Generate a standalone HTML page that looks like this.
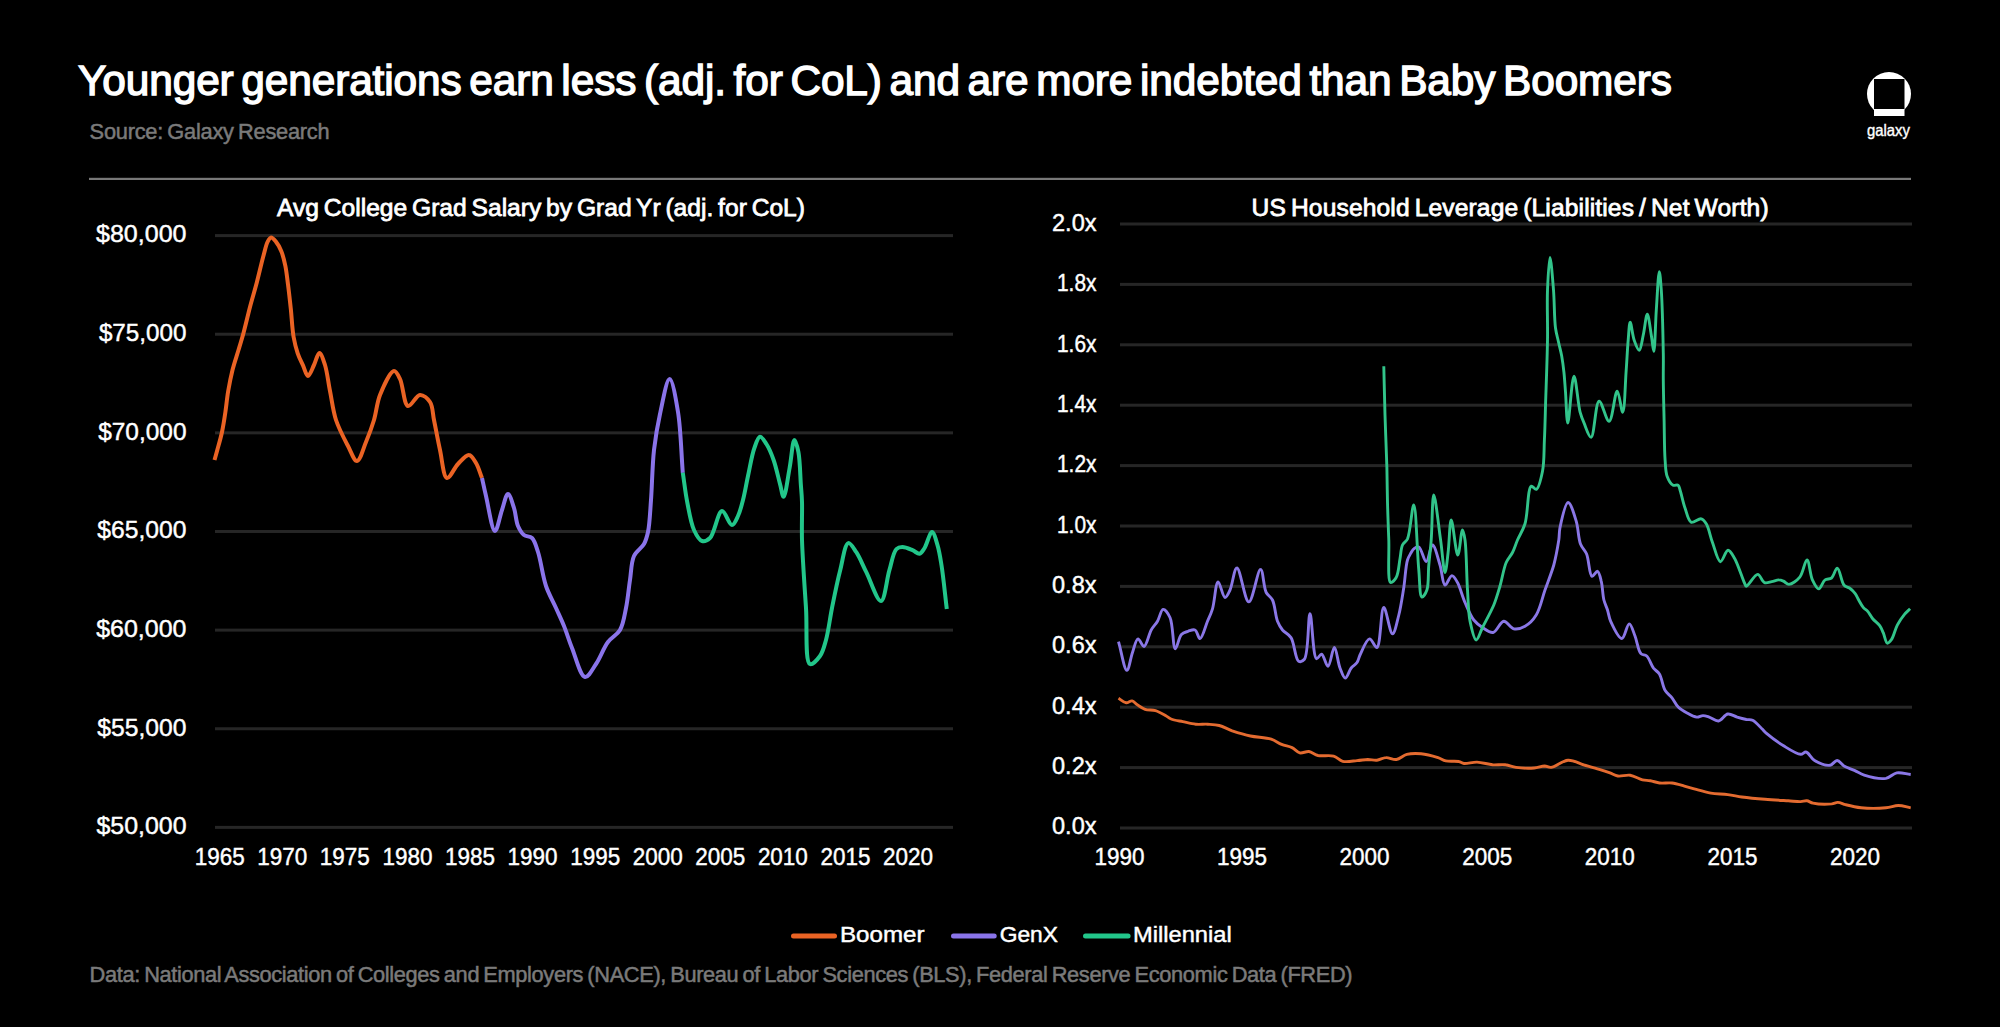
<!DOCTYPE html>
<html><head><meta charset="utf-8"><style>
html,body{margin:0;padding:0;background:#000;width:2000px;height:1027px;overflow:hidden}
svg{display:block}
text{font-family:"Liberation Sans", sans-serif}
</style></head><body>
<svg width="2000" height="1027" viewBox="0 0 2000 1027">
<rect width="2000" height="1027" fill="#000"/>
<text x="78" y="94.5" font-size="42.4" fill="#fff" font-weight="normal" text-anchor="start" textLength="1594" lengthAdjust="spacing" stroke="#fff" stroke-width="1.4" style="word-spacing:-4px">Younger generations earn less (adj. for CoL) and are more indebted than Baby Boomers</text>
<text x="89.6" y="139.4" font-size="21.8" fill="#7a7a7a" font-weight="normal" text-anchor="start" textLength="240" lengthAdjust="spacing" stroke="#7a7a7a" stroke-width="0.5" style="word-spacing:-1.5px">Source: Galaxy Research</text>
<rect x="89" y="177.8" width="1822" height="2.2" fill="#787878"/>
<text x="277" y="216.4" font-size="24.6" fill="#fff" font-weight="normal" text-anchor="start" textLength="528" lengthAdjust="spacing" stroke="#fff" stroke-width="0.8" style="word-spacing:-2px">Avg College Grad Salary by Grad Yr (adj. for CoL)</text>
<text x="1251.6" y="216.4" font-size="24.6" fill="#fff" font-weight="normal" text-anchor="start" textLength="517" lengthAdjust="spacing" stroke="#fff" stroke-width="0.8" style="word-spacing:-2px">US Household Leverage (Liabilities / Net Worth)</text>
<rect x="215" y="234.10" width="738" height="3" fill="#262626"/>
<text x="186.5" y="242.4" font-size="24.7" fill="#fff" font-weight="normal" text-anchor="end" textLength="90.5" lengthAdjust="spacingAndGlyphs" stroke="#fff" stroke-width="0.45">$80,000</text>
<rect x="215" y="332.73" width="738" height="3" fill="#262626"/>
<text x="186.5" y="341.07" font-size="24.7" fill="#fff" font-weight="normal" text-anchor="end" textLength="87.6" lengthAdjust="spacingAndGlyphs" stroke="#fff" stroke-width="0.45">$75,000</text>
<rect x="215" y="431.36" width="738" height="3" fill="#262626"/>
<text x="186.5" y="439.74" font-size="24.7" fill="#fff" font-weight="normal" text-anchor="end" textLength="88.3" lengthAdjust="spacingAndGlyphs" stroke="#fff" stroke-width="0.45">$70,000</text>
<rect x="215" y="529.99" width="738" height="3" fill="#262626"/>
<text x="186.5" y="538.41" font-size="24.7" fill="#fff" font-weight="normal" text-anchor="end" textLength="89.2" lengthAdjust="spacingAndGlyphs" stroke="#fff" stroke-width="0.45">$65,000</text>
<rect x="215" y="628.62" width="738" height="3" fill="#262626"/>
<text x="186.5" y="637.08" font-size="24.7" fill="#fff" font-weight="normal" text-anchor="end" textLength="90.3" lengthAdjust="spacingAndGlyphs" stroke="#fff" stroke-width="0.45">$60,000</text>
<rect x="215" y="727.25" width="738" height="3" fill="#262626"/>
<text x="186.5" y="735.75" font-size="24.7" fill="#fff" font-weight="normal" text-anchor="end" textLength="89.2" lengthAdjust="spacingAndGlyphs" stroke="#fff" stroke-width="0.45">$55,000</text>
<rect x="215" y="825.88" width="738" height="3" fill="#262626"/>
<text x="186.5" y="834.42" font-size="24.7" fill="#fff" font-weight="normal" text-anchor="end" textLength="90" lengthAdjust="spacingAndGlyphs" stroke="#fff" stroke-width="0.45">$50,000</text>
<text x="219.7" y="865" font-size="24.7" fill="#fff" font-weight="normal" text-anchor="middle" textLength="50" lengthAdjust="spacingAndGlyphs" stroke="#fff" stroke-width="0.45">1965</text>
<text x="282.275" y="865" font-size="24.7" fill="#fff" font-weight="normal" text-anchor="middle" textLength="50" lengthAdjust="spacingAndGlyphs" stroke="#fff" stroke-width="0.45">1970</text>
<text x="344.85" y="865" font-size="24.7" fill="#fff" font-weight="normal" text-anchor="middle" textLength="50" lengthAdjust="spacingAndGlyphs" stroke="#fff" stroke-width="0.45">1975</text>
<text x="407.425" y="865" font-size="24.7" fill="#fff" font-weight="normal" text-anchor="middle" textLength="50" lengthAdjust="spacingAndGlyphs" stroke="#fff" stroke-width="0.45">1980</text>
<text x="470.0" y="865" font-size="24.7" fill="#fff" font-weight="normal" text-anchor="middle" textLength="50" lengthAdjust="spacingAndGlyphs" stroke="#fff" stroke-width="0.45">1985</text>
<text x="532.575" y="865" font-size="24.7" fill="#fff" font-weight="normal" text-anchor="middle" textLength="50" lengthAdjust="spacingAndGlyphs" stroke="#fff" stroke-width="0.45">1990</text>
<text x="595.1500000000001" y="865" font-size="24.7" fill="#fff" font-weight="normal" text-anchor="middle" textLength="50" lengthAdjust="spacingAndGlyphs" stroke="#fff" stroke-width="0.45">1995</text>
<text x="657.725" y="865" font-size="24.7" fill="#fff" font-weight="normal" text-anchor="middle" textLength="50" lengthAdjust="spacingAndGlyphs" stroke="#fff" stroke-width="0.45">2000</text>
<text x="720.3" y="865" font-size="24.7" fill="#fff" font-weight="normal" text-anchor="middle" textLength="50" lengthAdjust="spacingAndGlyphs" stroke="#fff" stroke-width="0.45">2005</text>
<text x="782.875" y="865" font-size="24.7" fill="#fff" font-weight="normal" text-anchor="middle" textLength="50" lengthAdjust="spacingAndGlyphs" stroke="#fff" stroke-width="0.45">2010</text>
<text x="845.45" y="865" font-size="24.7" fill="#fff" font-weight="normal" text-anchor="middle" textLength="50" lengthAdjust="spacingAndGlyphs" stroke="#fff" stroke-width="0.45">2015</text>
<text x="908.0250000000001" y="865" font-size="24.7" fill="#fff" font-weight="normal" text-anchor="middle" textLength="50" lengthAdjust="spacingAndGlyphs" stroke="#fff" stroke-width="0.45">2020</text>
<rect x="1120" y="222.50" width="792" height="3" fill="#262626"/>
<text x="1096.5" y="231.0" font-size="24.7" fill="#fff" font-weight="normal" text-anchor="end" textLength="44.5" lengthAdjust="spacingAndGlyphs" stroke="#fff" stroke-width="0.45">2.0x</text>
<rect x="1120" y="282.90" width="792" height="3" fill="#262626"/>
<text x="1096.5" y="291.34000000000003" font-size="24.7" fill="#fff" font-weight="normal" text-anchor="end" textLength="39.5" lengthAdjust="spacingAndGlyphs" stroke="#fff" stroke-width="0.45">1.8x</text>
<rect x="1120" y="343.30" width="792" height="3" fill="#262626"/>
<text x="1096.5" y="351.68" font-size="24.7" fill="#fff" font-weight="normal" text-anchor="end" textLength="39.5" lengthAdjust="spacingAndGlyphs" stroke="#fff" stroke-width="0.45">1.6x</text>
<rect x="1120" y="403.70" width="792" height="3" fill="#262626"/>
<text x="1096.5" y="412.02" font-size="24.7" fill="#fff" font-weight="normal" text-anchor="end" textLength="39.5" lengthAdjust="spacingAndGlyphs" stroke="#fff" stroke-width="0.45">1.4x</text>
<rect x="1120" y="464.10" width="792" height="3" fill="#262626"/>
<text x="1096.5" y="472.36" font-size="24.7" fill="#fff" font-weight="normal" text-anchor="end" textLength="39.5" lengthAdjust="spacingAndGlyphs" stroke="#fff" stroke-width="0.45">1.2x</text>
<rect x="1120" y="524.50" width="792" height="3" fill="#262626"/>
<text x="1096.5" y="532.7" font-size="24.7" fill="#fff" font-weight="normal" text-anchor="end" textLength="39.5" lengthAdjust="spacingAndGlyphs" stroke="#fff" stroke-width="0.45">1.0x</text>
<rect x="1120" y="584.90" width="792" height="3" fill="#262626"/>
<text x="1096.5" y="593.04" font-size="24.7" fill="#fff" font-weight="normal" text-anchor="end" textLength="44.5" lengthAdjust="spacingAndGlyphs" stroke="#fff" stroke-width="0.45">0.8x</text>
<rect x="1120" y="645.30" width="792" height="3" fill="#262626"/>
<text x="1096.5" y="653.38" font-size="24.7" fill="#fff" font-weight="normal" text-anchor="end" textLength="44.5" lengthAdjust="spacingAndGlyphs" stroke="#fff" stroke-width="0.45">0.6x</text>
<rect x="1120" y="705.70" width="792" height="3" fill="#262626"/>
<text x="1096.5" y="713.72" font-size="24.7" fill="#fff" font-weight="normal" text-anchor="end" textLength="44.5" lengthAdjust="spacingAndGlyphs" stroke="#fff" stroke-width="0.45">0.4x</text>
<rect x="1120" y="766.10" width="792" height="3" fill="#262626"/>
<text x="1096.5" y="774.0600000000001" font-size="24.7" fill="#fff" font-weight="normal" text-anchor="end" textLength="44.5" lengthAdjust="spacingAndGlyphs" stroke="#fff" stroke-width="0.45">0.2x</text>
<rect x="1120" y="826.50" width="792" height="3" fill="#262626"/>
<text x="1096.5" y="834.4000000000001" font-size="24.7" fill="#fff" font-weight="normal" text-anchor="end" textLength="44.5" lengthAdjust="spacingAndGlyphs" stroke="#fff" stroke-width="0.45">0.0x</text>
<text x="1119.4" y="865" font-size="24.7" fill="#fff" font-weight="normal" text-anchor="middle" textLength="50" lengthAdjust="spacingAndGlyphs" stroke="#fff" stroke-width="0.45">1990</text>
<text x="1242.0" y="865" font-size="24.7" fill="#fff" font-weight="normal" text-anchor="middle" textLength="50" lengthAdjust="spacingAndGlyphs" stroke="#fff" stroke-width="0.45">1995</text>
<text x="1364.6000000000001" y="865" font-size="24.7" fill="#fff" font-weight="normal" text-anchor="middle" textLength="50" lengthAdjust="spacingAndGlyphs" stroke="#fff" stroke-width="0.45">2000</text>
<text x="1487.2" y="865" font-size="24.7" fill="#fff" font-weight="normal" text-anchor="middle" textLength="50" lengthAdjust="spacingAndGlyphs" stroke="#fff" stroke-width="0.45">2005</text>
<text x="1609.8000000000002" y="865" font-size="24.7" fill="#fff" font-weight="normal" text-anchor="middle" textLength="50" lengthAdjust="spacingAndGlyphs" stroke="#fff" stroke-width="0.45">2010</text>
<text x="1732.4" y="865" font-size="24.7" fill="#fff" font-weight="normal" text-anchor="middle" textLength="50" lengthAdjust="spacingAndGlyphs" stroke="#fff" stroke-width="0.45">2015</text>
<text x="1855.0" y="865" font-size="24.7" fill="#fff" font-weight="normal" text-anchor="middle" textLength="50" lengthAdjust="spacingAndGlyphs" stroke="#fff" stroke-width="0.45">2020</text>
<line x1="793.5" y1="936" x2="834.5" y2="936" stroke="#ea6324" stroke-width="5" stroke-linecap="round"/>
<text x="840" y="941.9" font-size="22.5" fill="#fff" font-weight="normal" text-anchor="start" textLength="84.5" lengthAdjust="spacingAndGlyphs" stroke="#fff" stroke-width="0.45">Boomer</text>
<line x1="953.5" y1="936" x2="994.2" y2="936" stroke="#8a74ea" stroke-width="5" stroke-linecap="round"/>
<text x="999.7" y="941.9" font-size="22.5" fill="#fff" font-weight="normal" text-anchor="start" textLength="58.3" lengthAdjust="spacingAndGlyphs" stroke="#fff" stroke-width="0.45">GenX</text>
<line x1="1085.5" y1="936" x2="1128.1" y2="936" stroke="#22c68a" stroke-width="5" stroke-linecap="round"/>
<text x="1133" y="941.9" font-size="22.5" fill="#fff" font-weight="normal" text-anchor="start" textLength="98.7" lengthAdjust="spacingAndGlyphs" stroke="#fff" stroke-width="0.45">Millennial</text>
<text x="89.6" y="981.8" font-size="21.8" fill="#7a7a7a" font-weight="normal" text-anchor="start" textLength="1263" lengthAdjust="spacing" stroke="#7a7a7a" stroke-width="0.5" style="word-spacing:-1.5px">Data: National Association of Colleges and Employers (NACE), Bureau of Labor Sciences (BLS), Federal Reserve Economic Data (FRED)</text>
<circle cx="1889" cy="94" r="22" fill="#fff"/><rect x="1874" y="79" width="30.5" height="30" fill="#000"/><rect x="1874" y="109.5" width="30.5" height="6.5" fill="#fff"/>
<text x="1867" y="136" font-size="16.5" fill="#fff" font-weight="normal" text-anchor="start" textLength="43" lengthAdjust="spacingAndGlyphs" stroke="#fff" stroke-width="0.4">galaxy</text>
<path d="M214.5,460.0 C215.4,456.7 216.3,453.8 217.3,450.0 C218.7,444.9 220.7,438.2 222.0,432.0 C223.4,425.5 224.4,418.8 225.4,412.0 C226.4,405.1 227.0,398.0 228.2,391.0 C229.4,384.0 230.8,376.9 232.5,370.0 C234.2,363.2 236.6,356.4 238.5,350.0 C240.3,344.1 241.8,339.3 243.5,333.0 C245.6,325.3 247.8,315.5 250.0,307.0 C252.2,298.7 254.6,290.9 256.8,282.5 C259.1,273.7 261.5,262.7 263.6,255.2 C265.1,249.9 266.0,244.7 267.7,241.6 C268.7,239.7 269.8,237.6 271.1,237.5 C272.5,237.4 274.4,239.8 275.9,241.6 C277.9,244.0 279.8,247.5 281.3,251.2 C283.1,255.5 284.3,260.8 285.4,266.1 C286.6,272.0 287.2,278.4 288.1,285.2 C289.1,292.9 290.0,301.3 290.9,309.7 C291.8,318.6 292.2,329.1 293.6,337.0 C294.7,343.2 296.0,348.3 297.7,353.3 C299.2,357.8 301.3,361.7 303.1,365.6 C304.7,369.2 306.2,375.9 308.0,376.0 C309.8,376.1 312.1,368.8 314.0,365.0 C315.9,361.1 317.6,353.0 319.4,353.0 C321.2,353.0 323.4,360.1 325.0,365.0 C327.2,371.9 328.2,382.1 330.0,391.0 C331.9,400.4 333.0,410.8 336.0,420.0 C339.0,429.1 344.1,438.6 348.0,446.0 C351.1,451.8 354.1,461.1 357.0,461.0 C360.2,460.8 363.2,448.6 366.0,442.0 C368.9,435.0 371.7,427.6 374.0,420.0 C376.4,412.0 376.8,403.0 380.0,395.0 C383.3,386.7 390.2,371.2 394.0,371.0 C396.3,370.9 398.2,375.3 400.0,379.0 C403.1,385.2 403.9,404.9 408.0,406.0 C411.1,406.9 416.1,395.3 420.0,395.0 C423.4,394.8 427.7,398.5 430.0,402.0 C432.9,406.3 432.6,413.2 434.0,420.0 C435.8,428.7 437.8,440.2 440.0,450.0 C442.1,459.5 443.4,477.2 447.0,478.0 C449.9,478.6 454.1,468.0 458.0,464.0 C461.5,460.4 465.9,454.7 469.0,455.0 C471.7,455.2 474.0,459.7 476.0,463.0 C478.5,467.1 480.0,473.0 482.0,478.0" fill="none" stroke="#ea6324" stroke-width="4" stroke-linejoin="round" stroke-linecap="butt"/>
<path d="M482.0,478.0 C483.3,484.0 484.3,489.0 486.0,496.0 C488.3,505.8 492.0,530.9 495.0,531.0 C497.3,531.1 499.7,516.5 502.0,510.0 C504.0,504.3 505.9,494.0 508.0,494.0 C509.9,494.0 512.4,503.0 514.0,508.0 C515.8,513.5 515.9,521.2 518.0,526.0 C519.6,529.7 521.5,533.0 524.0,535.0 C526.2,536.8 529.8,535.9 532.0,538.0 C534.9,540.8 536.1,546.2 538.0,552.0 C540.9,560.8 542.6,576.0 546.0,586.0 C548.8,594.3 552.9,601.0 556.0,608.0 C558.8,614.3 561.4,619.7 564.0,626.0 C566.8,632.9 568.8,640.2 572.0,648.0 C575.7,657.1 580.3,676.3 585.0,677.0 C588.5,677.5 592.5,669.1 596.0,664.0 C600.2,657.8 603.5,648.0 608.0,642.0 C611.7,637.1 617.1,635.1 620.0,630.0 C623.4,624.1 624.4,615.8 626.0,608.0 C627.8,599.3 628.6,589.0 630.0,580.0 C631.3,571.7 631.1,562.3 634.0,556.0 C636.3,550.9 641.6,548.2 644.0,544.0 C646.1,540.2 646.9,537.0 648.0,532.0 C649.7,524.0 650.1,511.9 651.0,500.0 C652.1,485.2 652.3,465.3 654.0,450.0 C655.5,437.0 657.4,425.8 660.0,414.0 C662.6,402.2 666.6,379.0 669.6,379.0 C672.5,379.0 675.9,399.2 678.0,412.0 C680.8,429.1 681.2,452.5 682.8,472.8" fill="none" stroke="#8a74ea" stroke-width="4" stroke-linejoin="round" stroke-linecap="butt"/>
<path d="M682.8,472.8 C684.3,482.5 685.3,492.4 687.2,502.0 C689.1,511.5 690.8,523.0 694.0,530.0 C696.2,534.8 698.9,540.1 702.0,541.0 C704.4,541.7 707.5,540.3 710.0,538.0 C714.6,533.6 717.8,511.4 722.0,511.0 C725.2,510.7 729.1,525.0 732.0,525.0 C734.3,525.0 736.3,519.6 738.0,516.0 C740.1,511.6 741.5,505.9 743.0,500.0 C744.9,492.8 746.2,484.3 748.0,476.0 C750.0,467.0 751.8,455.1 754.4,448.0 C756.1,443.3 757.8,437.1 760.0,436.8 C761.9,436.5 764.4,440.9 766.4,444.0 C769.1,448.1 771.5,454.0 773.6,460.0 C776.1,467.1 778.2,477.3 780.0,484.0 C781.4,488.9 782.3,496.8 783.6,496.8 C785.5,496.7 787.8,477.5 789.6,468.0 C791.4,458.6 792.6,440.1 794.4,440.0 C795.6,439.9 797.4,447.0 798.4,452.0 C800.0,460.0 800.2,474.9 800.8,484.0 C801.3,490.9 801.8,494.9 802.0,502.0 C802.3,512.3 801.6,525.5 802.0,540.0 C802.6,559.4 804.6,586.4 806.0,608.0 C807.3,627.6 804.8,661.7 810.0,664.0 C812.5,665.1 817.4,659.6 820.0,656.0 C823.0,651.9 824.2,646.3 826.0,640.0 C828.4,631.2 829.8,619.1 832.0,608.0 C834.4,595.9 837.2,581.7 840.2,570.2 C842.7,560.4 844.8,543.9 848.3,543.1 C850.6,542.6 853.7,548.4 856.3,552.2 C859.8,557.4 862.6,564.9 866.3,572.2 C870.7,580.9 877.1,601.4 881.0,601.0 C884.8,600.6 886.6,579.5 889.4,570.2 C891.7,562.5 893.1,552.4 896.4,549.1 C898.1,547.4 900.1,547.1 902.4,547.1 C905.3,547.1 909.5,549.0 912.5,550.2 C915.1,551.2 917.5,554.1 919.5,553.7 C921.5,553.3 922.8,550.6 924.5,548.1 C927.0,544.3 929.7,532.1 932.0,532.1 C934.0,532.1 936.0,540.2 937.5,545.1 C939.3,551.0 940.2,557.2 941.5,565.2 C943.4,577.0 945.0,594.4 946.8,609.0" fill="none" stroke="#22c68a" stroke-width="4" stroke-linejoin="round" stroke-linecap="butt"/>
<path d="M1118.5,698.2 C1121.0,699.8 1123.8,702.5 1126.2,702.8 C1128.3,703.0 1130.3,700.6 1132.1,700.9 C1134.0,701.2 1135.3,703.5 1137.3,704.8 C1139.6,706.3 1142.2,708.3 1145.1,709.3 C1148.2,710.4 1152.1,709.6 1155.5,710.6 C1159.1,711.7 1163.1,714.2 1165.9,715.8 C1168.0,717.0 1168.9,718.2 1171.1,719.0 C1174.1,720.3 1178.8,720.8 1182.8,721.6 C1187.0,722.5 1191.6,723.8 1195.8,724.2 C1199.8,724.6 1203.6,724.0 1207.5,724.2 C1211.4,724.5 1215.3,724.6 1219.2,725.5 C1223.5,726.6 1227.5,729.1 1232.2,730.8 C1237.7,732.6 1244.1,734.6 1250.4,736.0 C1257.1,737.4 1265.6,737.4 1271.2,739.2 C1275.4,740.5 1278.1,743.0 1281.6,744.4 C1285.0,745.8 1288.9,746.2 1292.0,747.6 C1294.9,749.0 1297.0,752.2 1299.8,752.9 C1302.6,753.5 1305.9,751.2 1308.9,751.5 C1312.0,752.0 1314.5,754.6 1318.0,755.5 C1322.4,756.5 1329.2,754.8 1333.6,756.1 C1337.2,757.1 1339.2,760.5 1342.7,761.3 C1346.8,762.3 1352.6,761.0 1357.0,760.6 C1360.9,760.4 1364.4,759.6 1367.8,759.5 C1371.0,759.5 1373.9,760.5 1376.9,760.2 C1380.0,759.9 1382.8,757.7 1386.0,757.6 C1389.3,757.4 1393.0,760.0 1396.4,759.5 C1400.0,759.1 1402.9,755.4 1406.8,754.4 C1411.1,753.2 1416.2,753.3 1421.1,753.7 C1426.5,754.2 1433.5,756.2 1438.0,757.6 C1441.1,758.6 1442.8,760.2 1445.8,760.9 C1449.5,761.7 1455.5,760.8 1458.8,761.5 C1461.0,761.9 1461.8,763.2 1464.0,763.5 C1467.3,763.9 1472.5,762.0 1477.0,762.1 C1482.0,762.3 1487.6,764.3 1492.6,764.8 C1497.1,765.1 1501.5,764.2 1505.6,764.8 C1509.3,765.2 1512.0,766.8 1516.0,767.4 C1521.2,768.1 1529.0,768.4 1534.2,768.0 C1538.2,767.7 1541.5,766.0 1544.6,766.0 C1547.0,766.1 1548.5,767.6 1551.1,767.4 C1555.5,766.9 1562.4,760.5 1568.0,760.2 C1573.2,759.9 1578.4,763.2 1583.6,764.8 C1588.8,766.3 1594.5,767.8 1599.2,769.3 C1603.1,770.5 1606.7,771.7 1610.0,772.9 C1612.8,773.9 1614.8,775.5 1617.8,776.0 C1621.3,776.6 1626.1,774.6 1630.2,775.2 C1634.4,775.9 1638.8,779.0 1642.5,779.9 C1645.4,780.6 1647.6,780.2 1650.3,780.7 C1653.3,781.2 1656.3,782.6 1659.6,783.0 C1663.4,783.5 1667.9,782.5 1672.0,783.0 C1676.2,783.5 1680.4,785.0 1684.4,786.1 C1688.1,787.1 1691.3,788.1 1695.2,789.2 C1699.9,790.5 1705.4,792.2 1710.8,793.1 C1716.3,794.0 1722.4,793.9 1727.8,794.6 C1732.7,795.2 1736.5,796.2 1741.8,797.0 C1748.5,797.9 1757.2,798.7 1765.0,799.3 C1772.7,799.9 1781.7,800.4 1788.2,800.8 C1793.0,801.1 1797.2,801.7 1800.7,801.6 C1803.1,801.5 1804.8,800.6 1806.8,800.8 C1808.9,801.0 1810.4,802.6 1813.0,803.1 C1817.5,804.1 1827.1,804.3 1831.7,803.9 C1834.3,803.6 1835.7,802.3 1837.8,802.4 C1840.3,802.5 1842.6,803.9 1845.6,804.7 C1849.9,805.8 1855.3,807.2 1861.1,807.8 C1868.4,808.5 1879.1,808.4 1885.9,807.8 C1890.8,807.4 1894.2,805.5 1898.3,805.5 C1902.4,805.5 1906.6,807.0 1910.7,807.8" fill="none" stroke="#e46b30" stroke-width="2.9" stroke-linejoin="round" stroke-linecap="butt"/>
<path d="M1118.5,641.7 C1121.3,651.2 1124.3,670.3 1126.9,670.3 C1128.9,670.3 1130.5,658.0 1132.5,652.5 C1134.2,647.6 1135.8,639.2 1138.0,638.9 C1139.8,638.6 1142.1,646.7 1144.0,646.5 C1146.6,646.2 1148.7,634.5 1151.2,630.0 C1153.2,626.5 1155.6,624.5 1157.5,621.2 C1159.6,617.7 1160.9,609.7 1163.1,609.4 C1165.1,609.1 1168.2,613.6 1170.0,617.5 C1173.2,624.3 1172.9,648.5 1175.3,648.8 C1177.0,649.0 1178.7,637.4 1181.4,634.5 C1183.3,632.5 1185.7,632.1 1188.0,631.3 C1190.3,630.6 1193.1,629.1 1195.0,630.0 C1197.3,631.0 1198.3,638.7 1200.0,638.6 C1202.4,638.5 1205.3,626.6 1207.5,621.2 C1209.4,616.8 1211.0,613.8 1212.5,608.8 C1214.7,601.6 1215.6,582.2 1218.1,581.9 C1220.0,581.7 1222.7,597.3 1225.0,597.5 C1226.7,597.6 1228.4,593.3 1230.0,590.0 C1232.5,584.7 1234.2,568.0 1236.9,568.0 C1240.3,567.9 1244.8,601.9 1248.8,601.9 C1252.7,601.9 1257.6,569.2 1260.6,569.4 C1263.1,569.5 1263.5,587.1 1266.2,592.5 C1268.0,596.0 1270.8,596.6 1272.5,600.0 C1275.0,605.1 1275.4,615.8 1277.5,621.2 C1279.0,624.9 1280.4,627.3 1282.5,630.0 C1284.8,632.8 1288.6,633.9 1291.0,637.6 C1294.5,643.0 1295.2,659.4 1298.6,661.2 C1300.3,662.1 1302.8,661.2 1304.4,659.3 C1308.8,654.0 1308.0,613.8 1310.0,613.8 C1312.0,613.7 1312.7,657.3 1316.5,658.7 C1318.0,659.2 1320.0,653.9 1321.6,654.2 C1323.9,654.6 1326.0,666.5 1328.0,666.3 C1330.4,666.1 1332.4,647.4 1334.4,647.5 C1336.4,647.6 1337.8,662.5 1340.0,668.0 C1341.6,672.1 1343.4,678.1 1345.3,678.1 C1347.2,678.1 1349.1,670.7 1351.2,668.0 C1353.0,665.7 1355.5,664.7 1357.0,662.5 C1358.5,660.3 1358.6,657.9 1360.0,655.0 C1362.2,650.6 1366.3,639.2 1369.5,638.9 C1372.0,638.7 1374.9,648.1 1376.9,647.5 C1380.7,646.4 1380.8,607.7 1383.8,607.5 C1386.2,607.3 1389.8,633.8 1392.5,633.8 C1394.8,633.8 1397.0,621.9 1398.8,615.0 C1400.9,606.8 1402.3,596.7 1403.8,587.5 C1405.2,578.3 1405.6,566.2 1407.5,560.0 C1408.6,556.6 1410.1,554.5 1411.2,552.5 C1412.1,551.0 1412.6,549.7 1413.8,548.8 C1415.0,547.8 1417.2,546.4 1418.8,547.0 C1421.5,548.1 1424.0,561.6 1426.2,561.5 C1428.6,561.4 1430.3,545.0 1432.5,545.0 C1434.9,545.0 1437.9,558.3 1440.0,565.0 C1442.1,571.6 1442.5,584.5 1445.0,585.0 C1446.9,585.4 1449.7,575.7 1451.9,575.6 C1453.8,575.6 1455.7,579.4 1457.5,582.5 C1460.2,587.3 1462.2,596.1 1465.0,602.5 C1467.7,608.6 1470.3,615.6 1473.8,620.0 C1476.4,623.4 1479.3,625.4 1482.5,627.5 C1485.7,629.6 1489.8,633.1 1493.1,632.5 C1496.9,631.8 1500.1,621.6 1503.8,621.2 C1507.0,621.0 1510.1,628.0 1513.8,628.8 C1517.2,629.5 1521.5,628.2 1525.0,626.2 C1529.1,624.0 1533.2,619.9 1536.2,615.0 C1540.2,608.6 1542.1,598.3 1545.0,590.0 C1547.9,581.7 1551.4,573.4 1553.8,565.0 C1556.0,556.7 1557.7,546.9 1558.8,540.0 C1559.5,535.1 1559.0,532.3 1560.0,527.5 C1561.5,520.5 1565.2,502.6 1568.1,502.5 C1570.7,502.4 1574.2,514.6 1576.2,521.2 C1578.4,528.4 1578.2,538.1 1580.5,544.0 C1582.1,548.2 1584.9,549.8 1586.6,554.0 C1589.0,559.8 1589.3,575.5 1592.0,576.3 C1593.6,576.8 1596.1,570.9 1597.5,571.3 C1599.3,571.7 1600.3,577.3 1601.2,581.2 C1602.6,586.5 1602.6,594.8 1603.9,600.0 C1604.9,603.9 1606.4,606.5 1607.5,610.0 C1608.7,613.7 1608.9,617.4 1610.7,621.4 C1613.1,626.7 1618.7,638.7 1621.9,638.5 C1624.8,638.3 1626.9,623.9 1629.2,623.9 C1631.3,623.9 1633.2,631.5 1635.0,636.0 C1637.1,641.3 1638.1,650.6 1640.9,653.6 C1642.5,655.4 1644.9,654.4 1646.7,656.0 C1649.3,658.3 1651.1,665.0 1653.5,668.2 C1655.4,670.6 1657.7,671.3 1659.4,674.0 C1661.9,677.9 1662.6,686.4 1665.2,690.5 C1667.1,693.7 1669.9,695.1 1672.0,697.8 C1674.2,700.6 1675.6,704.4 1678.2,707.0 C1680.8,709.6 1684.3,711.5 1687.5,713.2 C1690.5,714.9 1694.0,716.9 1696.8,717.1 C1699.0,717.3 1700.9,715.6 1703.0,715.6 C1705.1,715.6 1707.0,716.4 1709.2,717.1 C1712.0,718.0 1715.5,721.4 1718.5,721.0 C1721.7,720.6 1724.6,714.5 1727.8,714.0 C1730.8,713.5 1734.0,716.2 1737.1,717.1 C1740.2,718.0 1743.6,718.9 1746.4,719.5 C1748.7,719.9 1750.5,719.2 1752.6,720.2 C1755.6,721.6 1759.4,726.3 1761.9,728.8 C1763.7,730.5 1764.4,731.6 1766.5,733.4 C1770.4,736.7 1777.8,742.3 1783.6,745.8 C1789.1,749.2 1796.5,754.2 1800.7,754.3 C1802.9,754.4 1804.2,751.6 1806.1,752.0 C1808.8,752.5 1811.0,758.4 1814.6,760.5 C1818.8,763.0 1826.1,765.8 1830.1,765.2 C1833.0,764.8 1834.8,760.4 1837.1,760.5 C1839.5,760.6 1841.4,764.4 1844.0,766.0 C1847.2,767.8 1851.4,769.0 1854.9,770.6 C1858.1,772.1 1860.3,774.0 1864.2,775.2 C1869.8,777.0 1880.0,779.3 1885.9,778.4 C1890.3,777.6 1892.8,773.6 1896.8,772.9 C1901.0,772.1 1906.0,774.0 1910.7,774.5" fill="none" stroke="#8a77e6" stroke-width="2.9" stroke-linejoin="round" stroke-linecap="butt"/>
<path d="M1383.8,366.2 C1384.2,382.5 1384.5,398.4 1385.0,415.0 C1385.5,432.3 1386.5,452.2 1386.9,468.0 C1387.2,480.7 1387.2,490.8 1387.5,502.5 C1387.8,514.7 1388.3,527.1 1388.8,540.0 C1389.3,553.7 1387.3,581.1 1390.6,582.5 C1392.0,583.1 1394.8,580.0 1396.2,577.5 C1398.6,573.5 1398.9,564.5 1400.0,558.8 C1400.9,553.8 1400.9,548.5 1402.5,545.0 C1403.7,542.3 1406.0,541.9 1407.5,538.8 C1410.5,532.2 1412.0,504.9 1413.8,505.0 C1416.1,505.1 1417.1,553.0 1418.8,570.0 C1419.8,581.0 1419.6,596.4 1421.9,597.0 C1423.2,597.3 1425.7,593.3 1426.9,590.0 C1428.9,584.4 1428.0,573.3 1428.8,565.0 C1429.5,556.7 1430.5,549.6 1431.2,540.0 C1432.2,527.2 1432.2,495.1 1433.8,495.0 C1435.3,494.9 1438.6,526.2 1440.6,540.0 C1442.3,551.7 1443.6,572.5 1445.0,572.5 C1446.1,572.5 1447.2,560.0 1448.1,552.5 C1449.3,543.0 1449.7,520.1 1451.2,520.0 C1452.9,519.9 1455.8,555.0 1457.8,555.0 C1459.5,555.0 1461.1,530.0 1462.5,530.0 C1463.4,530.0 1464.3,535.3 1465.0,540.0 C1466.5,550.3 1466.5,575.3 1467.5,590.0 C1468.3,601.6 1468.2,612.0 1470.0,621.0 C1471.5,628.2 1473.9,639.8 1476.2,640.0 C1478.2,640.1 1480.1,632.3 1482.5,627.5 C1485.7,621.1 1490.7,612.3 1493.8,605.0 C1496.4,598.5 1498.0,592.7 1500.0,586.0 C1502.2,578.6 1503.6,568.5 1506.2,562.5 C1508.1,558.3 1510.7,556.1 1512.5,552.5 C1514.5,548.6 1515.6,544.4 1517.5,540.0 C1519.7,534.9 1522.9,530.5 1525.0,523.8 C1528.0,514.0 1527.6,487.9 1531.2,486.2 C1532.7,485.6 1534.8,489.9 1536.2,489.4 C1538.9,488.5 1541.1,478.2 1542.5,471.2 C1544.3,462.3 1543.9,450.9 1544.4,440.0 C1545.0,428.1 1545.2,416.6 1545.6,402.5 C1546.2,384.3 1547.2,359.7 1547.5,340.0 C1547.8,322.4 1546.9,304.9 1547.5,290.0 C1548.0,278.0 1549.0,257.5 1550.0,257.5 C1551.0,257.5 1552.6,278.7 1553.5,290.0 C1554.5,302.2 1554.2,318.5 1555.5,328.0 C1556.3,333.8 1557.5,337.3 1558.5,342.0 C1559.5,346.7 1560.8,351.2 1561.7,356.0 C1562.6,361.1 1563.3,366.4 1563.9,372.0 C1564.6,378.3 1564.9,384.6 1565.5,392.0 C1566.2,401.2 1566.6,423.0 1567.8,423.0 C1569.2,423.0 1571.8,376.1 1574.0,376.1 C1575.9,376.1 1577.9,403.7 1580.1,412.2 C1581.4,417.0 1582.4,419.4 1584.1,423.2 C1586.0,427.7 1589.0,437.6 1591.1,437.3 C1594.3,436.9 1595.5,401.6 1599.1,401.2 C1601.9,400.9 1606.2,421.5 1609.1,421.2 C1612.5,420.9 1614.8,391.1 1617.2,391.1 C1619.2,391.2 1621.3,412.3 1622.7,412.2 C1624.7,412.0 1625.2,383.0 1626.2,370.1 C1627.0,359.2 1627.4,348.7 1628.2,340.0 C1628.8,333.3 1629.2,322.3 1630.2,322.2 C1631.2,322.1 1632.4,335.2 1634.2,340.3 C1635.6,344.2 1637.8,350.4 1639.2,350.3 C1640.9,350.1 1642.0,340.8 1643.2,335.3 C1644.7,328.9 1646.0,314.2 1647.3,314.2 C1648.6,314.2 1650.2,328.7 1651.3,335.3 C1652.3,341.0 1653.1,351.3 1653.8,351.3 C1654.9,351.2 1655.4,323.7 1656.3,310.2 C1657.2,297.1 1658.3,271.6 1659.3,271.6 C1660.0,271.6 1660.7,282.1 1661.3,290.1 C1662.3,304.8 1663.0,336.4 1663.3,353.0 C1663.5,363.9 1663.2,370.2 1663.3,380.1 C1663.4,392.1 1663.8,406.7 1664.1,420.0 C1664.4,433.4 1664.3,449.7 1665.1,460.1 C1665.6,466.7 1665.5,471.8 1667.1,476.2 C1668.4,479.8 1670.8,484.0 1673.1,485.2 C1674.6,486.0 1676.9,484.4 1678.1,485.2 C1679.3,486.0 1679.4,488.0 1680.1,490.2 C1681.5,494.3 1683.1,502.7 1685.1,508.3 C1686.9,513.3 1688.1,520.9 1691.2,522.3 C1693.8,523.4 1698.6,518.2 1701.2,518.8 C1703.4,519.3 1704.9,521.6 1706.4,524.1 C1708.9,528.2 1710.1,536.1 1712.4,542.2 C1714.8,548.6 1717.5,561.4 1720.4,561.7 C1722.8,561.9 1725.5,550.3 1728.0,550.2 C1730.2,550.1 1732.4,554.6 1734.5,558.2 C1737.9,564.0 1742.4,578.7 1744.5,583.0 C1745.3,584.6 1745.3,586.1 1746.3,586.2 C1748.4,586.5 1754.4,574.3 1757.7,574.4 C1760.3,574.5 1761.8,581.6 1764.5,582.6 C1766.6,583.5 1769.3,582.1 1771.7,581.6 C1774.1,581.2 1776.8,579.8 1778.9,579.9 C1780.6,579.9 1781.9,580.5 1783.5,581.2 C1785.3,582.0 1786.8,584.5 1788.9,584.4 C1791.9,584.3 1796.9,580.6 1799.8,577.1 C1803.2,572.9 1804.9,559.8 1807.0,559.9 C1809.2,560.0 1810.0,574.7 1812.4,579.9 C1814.2,583.7 1816.7,588.9 1818.8,588.9 C1820.9,588.9 1822.6,581.6 1825.1,579.9 C1827.0,578.5 1829.6,579.4 1831.5,578.0 C1833.9,576.1 1835.5,567.9 1837.3,568.1 C1839.7,568.3 1841.3,582.2 1844.1,585.3 C1845.7,587.1 1847.8,586.8 1849.5,588.0 C1851.5,589.4 1853.5,591.4 1855.0,593.4 C1856.5,595.4 1857.4,597.7 1858.7,600.0 C1860.1,602.5 1861.7,605.6 1863.4,607.6 C1864.7,609.1 1866.2,609.6 1867.5,611.1 C1869.3,613.1 1870.7,616.3 1872.7,618.7 C1874.8,621.2 1877.9,623.2 1879.7,625.7 C1881.3,627.9 1882.1,630.1 1883.2,632.7 C1884.6,635.8 1885.6,642.8 1887.3,643.2 C1888.5,643.5 1890.1,641.5 1891.4,639.7 C1893.6,636.6 1895.0,629.5 1897.3,625.1 C1899.4,621.2 1901.9,617.5 1904.3,614.6 C1906.2,612.3 1908.2,610.7 1910.1,608.8" fill="none" stroke="#32c48a" stroke-width="2.9" stroke-linejoin="round" stroke-linecap="butt"/>
</svg></body></html>
